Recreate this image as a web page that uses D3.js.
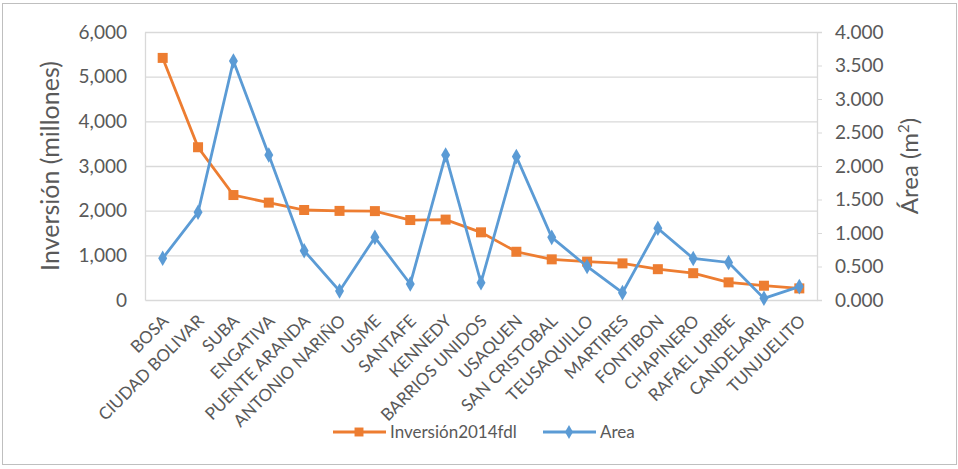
<!DOCTYPE html>
<html>
<head>
<meta charset="utf-8">
<script src="https://cdn.jsdelivr.net/npm/d3@7"></script>
<style>
  body { margin: 0; background: #fff; }
  text { font-family: Lato, "Liberation Sans", sans-serif; fill: #595959; }
</style>
</head>
<body>
<svg id="chart" width="958" height="469"></svg>
<script>
// localidades, ordered by investment
var localidades = ['BOSA', 'CIUDAD BOLIVAR', 'SUBA', 'ENGATIVA', 'PUENTE ARANDA', 'ANTONIO NARIÑO',
  'USME', 'SANTAFE', 'KENNEDY', 'BARRIOS UNIDOS', 'USAQUEN', 'SAN CRISTOBAL', 'TEUSAQUILLO',
  'MARTIRES', 'FONTIBON', 'CHAPINERO', 'RAFAEL URIBE', 'CANDELARIA', 'TUNJUELITO']
var inversion = [5420, 3420, 2350, 2180, 2015, 1995, 1990, 1790, 1800, 1515, 1080, 910, 860, 820,
  690, 600, 395, 320, 260]
var area = [0.622, 1.309, 3.567, 2.164, 0.736, 0.134, 0.935, 0.239, 2.164, 0.259, 2.14, 0.935,
  0.5, 0.11, 1.07, 0.62, 0.56, 0.025, 0.2]
var leftTicks = [0, 1000, 2000, 3000, 4000, 5000, 6000]
var rightTicks = [0, 0.5, 1, 1.5, 2, 2.5, 3, 3.5, 4]

var orange = '#ED7D31', blue = '#5B9BD5', grid = '#d9d9d9'
var svg = d3.select('#chart')

// chart frame
svg.append('rect')
   .attr('x', 2.5).attr('y', 3.5)
   .attr('width', 954).attr('height', 461)
   .attr('fill', '#fff')
   .attr('stroke', '#bfbfbf')

var plot = { left: 145, right: 817, top: 32, bottom: 300 }

var x = d3.scaleBand()
          .domain(localidades)
          .range([plot.left, plot.right])
var yL = d3.scaleLinear().domain([0, 6000]).range([plot.bottom, plot.top])
var yR = d3.scaleLinear().domain([0, 4]).range([plot.bottom, plot.top])
function cx(d, i) { return x(localidades[i]) + x.bandwidth() / 2 }

// gridlines
svg.append('g')
   .selectAll('line')
   .data(leftTicks.slice(1))
   .enter()
   .append('line')
   .attr('x1', plot.left).attr('x2', plot.right)
   .attr('y1', function(d) { return yL(d) + 0.5 })
   .attr('y2', function(d) { return yL(d) + 0.5 })
   .attr('stroke', grid).attr('stroke-width', 1.3)

// left axis
var leftAxis = svg.append('g')
   .attr('transform', 'translate(' + plot.left + ',0)')
   .call(d3.axisLeft(yL).tickValues(leftTicks).tickSize(0).tickPadding(18)
           .tickFormat(d3.format(',')))
leftAxis.select('.domain').attr('stroke', grid).attr('stroke-width', 1.3)
leftAxis.selectAll('text').style('font-size', '19px').style('fill', '#595959')

// right axis
var rightAxis = svg.append('g')
   .attr('transform', 'translate(' + plot.right + ',0)')
   .call(d3.axisRight(yR).tickValues(rightTicks).tickSize(5).tickPadding(13)
           .tickFormat(function(d) { return d3.format('.3f')(d) }))
rightAxis.select('.domain').attr('stroke', grid).attr('stroke-width', 1.3)
rightAxis.selectAll('line').attr('stroke', grid)
rightAxis.selectAll('text').style('font-size', '19px').style('fill', '#595959')

// bottom axis line
var bottomAxis = svg.append('g')
   .attr('transform', 'translate(0,' + plot.bottom + ')')
   .call(d3.axisBottom(x).tickSize(0).tickFormat(''))
bottomAxis.select('.domain').attr('stroke', grid).attr('stroke-width', 1.3)

// category labels, rotated 45 degrees (no dy: offset is folded into the translate)
svg.append('g')
   .selectAll('g')
   .data(localidades)
   .enter()
   .append('g')
   .attr('transform', function(d, i) { return 'translate(' + (cx(d, i) + 7) + ',322)' })
   .append('text')
   .attr('transform', 'rotate(-45)')
   .attr('text-anchor', 'end')
   .style('font-size', '17px')
   .text(function(d) { return d })

// axis titles
svg.append('g')
   .attr('transform', 'translate(59,166)')
   .append('text')
   .attr('transform', 'rotate(-90)')
   .attr('text-anchor', 'middle')
   .style('font-size', '25px')
   .text('Inversión (millones)')
svg.append('g')
   .attr('transform', 'translate(918,166)')
   .append('text')
   .attr('transform', 'rotate(-90)')
   .attr('text-anchor', 'middle')
   .style('font-size', '24px')
   .html('Área (m<tspan dy="-9" font-size="15px">2</tspan><tspan dy="9">)</tspan>')

// series
var lineL = d3.line().x(cx).y(function(d) { return yL(d) })
var lineR = d3.line().x(cx).y(function(d) { return yR(d) })

svg.append('path')
   .attr('d', lineL(inversion))
   .attr('fill', 'none').attr('stroke', orange).attr('stroke-width', 2.8)
svg.append('g')
   .selectAll('rect')
   .data(inversion)
   .enter()
   .append('rect')
   .attr('x', function(d, i) { return cx(d, i) - 5 })
   .attr('y', function(d) { return yL(d) - 5 })
   .attr('width', 10).attr('height', 10)
   .attr('fill', orange)

svg.append('path')
   .attr('d', lineR(area))
   .attr('fill', 'none').attr('stroke', blue).attr('stroke-width', 2.8)
svg.append('g')
   .selectAll('path')
   .data(area)
   .enter()
   .append('path')
   .attr('d', d3.symbol().type(d3.symbolDiamond).size(70))
   .attr('transform', function(d, i) { return 'translate(' + cx(d, i) + ',' + yR(d) + ')' })
   .attr('fill', blue)

// legend
var legend = [
  { name: 'Inversión2014fdl', colour: orange, x: 333, marker: 'square' },
  { name: 'Area', colour: blue, x: 543, marker: 'diamond' }
]
var lg = svg.append('g')
   .selectAll('g')
   .data(legend)
   .enter()
   .append('g')
   .attr('transform', function(d) { return 'translate(' + d.x + ',432)' })
lg.append('line')
  .attr('x1', 0).attr('x2', 53)
  .attr('stroke', function(d) { return d.colour }).attr('stroke-width', 2.8)
lg.append('path')
  .attr('d', function(d) {
    return d3.symbol().type(d.marker == 'square' ? d3.symbolSquare : d3.symbolDiamond)
             .size(d.marker == 'square' ? 80 : 55)()
  })
  .attr('transform', 'translate(26,0)')
  .attr('fill', function(d) { return d.colour })
lg.append('text')
  .attr('x', 57).attr('dy', '0.35em')
  .style('font-size', '17px')
  .text(function(d) { return d.name })
</script>
</body>
</html>
